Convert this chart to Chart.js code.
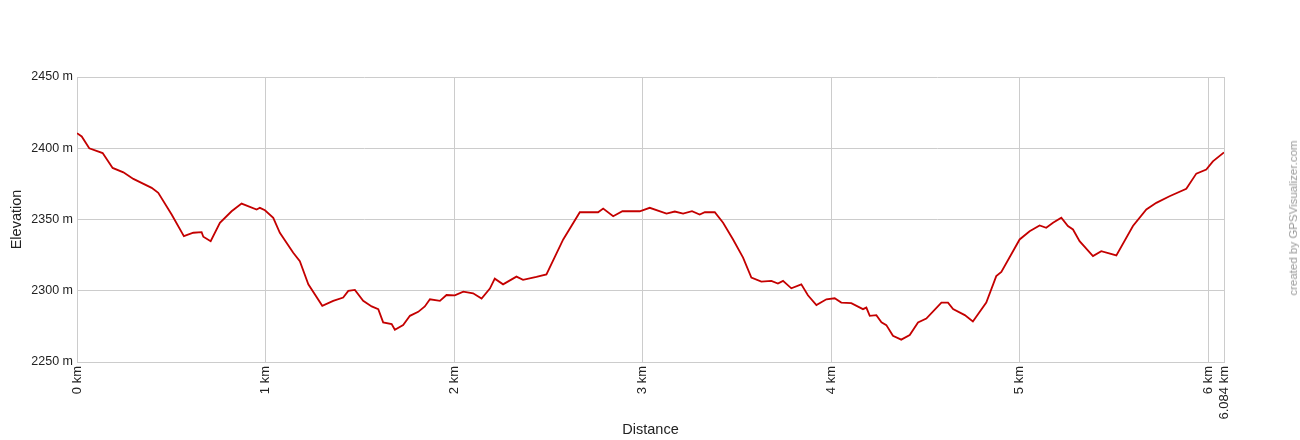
<!DOCTYPE html>
<html>
<head>
<meta charset="utf-8">
<script src="https://cdn.jsdelivr.net/npm/chart.js@4"></script>
<style>
  html, body { margin: 0; padding: 0; background: #fff; }
  #wrap { position: relative; width: 1300px; height: 440px; }
  #credit {
    position: absolute; left: 1293px; top: 218px;
    transform: translate(-50%, -50%) rotate(-90deg);
    white-space: nowrap; color: #999;
    font: 11.5px "Liberation Sans", Arial, sans-serif;
  }
</style>
</head>
<body>
<div id="wrap">
  <canvas id="profile" width="1300" height="440"></canvas>
  <div id="credit">created by GPSVisualizer.com</div>
</div>
<script>
// distance along track (km) and elevation (m)
var distKm = [0, 0.025, 0.065, 0.136, 0.189, 0.246, 0.299, 0.396, 0.431, 0.502,
  0.567, 0.617, 0.661, 0.670, 0.709, 0.758, 0.820, 0.873, 0.953, 0.970,
  0.997, 1.041, 1.076, 1.147, 1.182, 1.227, 1.301, 1.359, 1.412, 1.439,
  1.474, 1.518, 1.563, 1.598, 1.624, 1.669, 1.686, 1.730, 1.766, 1.810,
  1.845, 1.872, 1.925, 1.960, 2.004, 2.049, 2.101, 2.146, 2.190, 2.216,
  2.260, 2.331, 2.366, 2.437, 2.490, 2.579, 2.667, 2.764, 2.791, 2.844,
  2.893, 2.985, 3.038, 3.127, 3.171, 3.215, 3.262, 3.303, 3.330, 3.383,
  3.427, 3.480, 3.533, 3.577, 3.630, 3.683, 3.718, 3.745, 3.789, 3.842,
  3.877, 3.922, 3.975, 4.019, 4.054, 4.107, 4.169, 4.187, 4.205, 4.240,
  4.267, 4.293, 4.328, 4.372, 4.417, 4.461, 4.505, 4.585, 4.620, 4.647,
  4.709, 4.752, 4.823, 4.876, 4.903, 5.000, 5.053, 5.106, 5.141, 5.177,
  5.221, 5.256, 5.283, 5.318, 5.389, 5.433, 5.513, 5.601, 5.672, 5.725,
  5.795, 5.884, 5.937, 5.990, 6.025, 6.084];
var elevM = [2410.6, 2408.3, 2400.0, 2396.6, 2386.2, 2383.1, 2378.5, 2372.2, 2368.7, 2353.5,
  2338.3, 2340.7, 2341.1, 2337.9, 2334.8, 2347.7, 2355.8, 2361.2, 2357.0, 2358.2,
  2356.5, 2351.2, 2340.7, 2326.7, 2320.8, 2304.5, 2289.4, 2292.9, 2295.2, 2299.9,
  2300.6, 2292.9, 2289.0, 2287.1, 2277.8, 2276.6, 2272.6, 2275.9, 2282.4, 2285.2,
  2289.0, 2294.0, 2292.9, 2297.0, 2296.8, 2299.4, 2298.2, 2294.5, 2301.5, 2308.5,
  2304.5, 2309.9, 2307.6, 2309.7, 2311.5, 2336.0, 2355.1, 2355.1, 2357.7, 2352.3,
  2355.8, 2355.8, 2358.2, 2354.2, 2355.6, 2354.2, 2355.8, 2353.5, 2355.1, 2355.1,
  2347.7, 2336.0, 2323.2, 2309.2, 2306.4, 2306.9, 2305.0, 2306.9, 2301.7, 2304.5,
  2296.8, 2289.9, 2294.0, 2294.7, 2291.7, 2291.3, 2287.1, 2288.2, 2282.4, 2282.9,
  2277.8, 2275.9, 2268.4, 2265.7, 2268.9, 2277.8, 2280.5, 2291.7, 2291.7, 2287.1,
  2282.9, 2278.4, 2291.7, 2310.3, 2313.2, 2336.0, 2341.8, 2345.8, 2344.2, 2347.7,
  2351.2, 2345.4, 2343.0, 2334.8, 2324.3, 2327.8, 2324.8, 2345.4, 2357.0, 2361.7,
  2366.3, 2371.5, 2382.2, 2385.0, 2390.8, 2397.1];
var xTicks = [0, 1, 2, 3, 4, 5, 6, 6.084];
var yTicks = [2250, 2300, 2350, 2400, 2450];

var font = "'Liberation Sans', Arial, sans-serif";
var points = distKm.map(function (d, i) { return { x: d, y: elevM[i] }; });

var ctx = document.getElementById('profile');
var profileChart = new Chart(ctx, {
    type: 'line',
    data: {
        datasets: [{
            data: points,
            borderColor: '#c40000',
            borderWidth: 1.8,
            pointRadius: 0,
            tension: 0,
            fill: false
        }]
    },
    options: {
        responsive: false,
        animation: false,
        layout: { padding: { left: 8, top: 77, right: 76, bottom: 0 } },
        plugins: { legend: { display: false }, tooltip: { enabled: false } },
        scales: {
            x: {
                type: 'linear',
                min: 0,
                max: 6.084,
                afterBuildTicks: function (axis) {
                    axis.ticks = xTicks.map(function (v) { return { value: v }; });
                },
                afterFit: function (axis) { axis.height = 78; },
                grid: { color: '#cccccc', drawTicks: false },
                border: { color: '#cccccc' },
                ticks: {
                    autoSkip: false,
                    minRotation: 90,
                    maxRotation: 90,
                    padding: 4,
                    color: '#222',
                    font: { family: font, size: 13 },
                    callback: function (v) { return v + ' km'; }
                },
                title: {
                    display: true,
                    text: 'Distance',
                    color: '#222',
                    font: { family: font, size: 14.5 },
                    padding: { top: 0, bottom: 1 }
                }
            },
            y: {
                min: 2250,
                max: 2450,
                afterBuildTicks: function (axis) {
                    axis.ticks = yTicks.map(function (v) { return { value: v }; });
                },
                afterFit: function (axis) { axis.width = 69; },
                grid: { color: '#cccccc', drawTicks: false },
                border: { color: '#cccccc' },
                ticks: {
                    padding: 4,
                    color: '#222',
                    font: { family: font, size: 12.5 },
                    callback: function (v) { return v + ' m'; }
                },
                title: {
                    display: true,
                    text: 'Elevation',
                    color: '#222',
                    font: { family: font, size: 14.5 },
                    padding: { top: 0, bottom: 0 }
                }
            }
        }
    }
});
</script>
</body>
</html>
